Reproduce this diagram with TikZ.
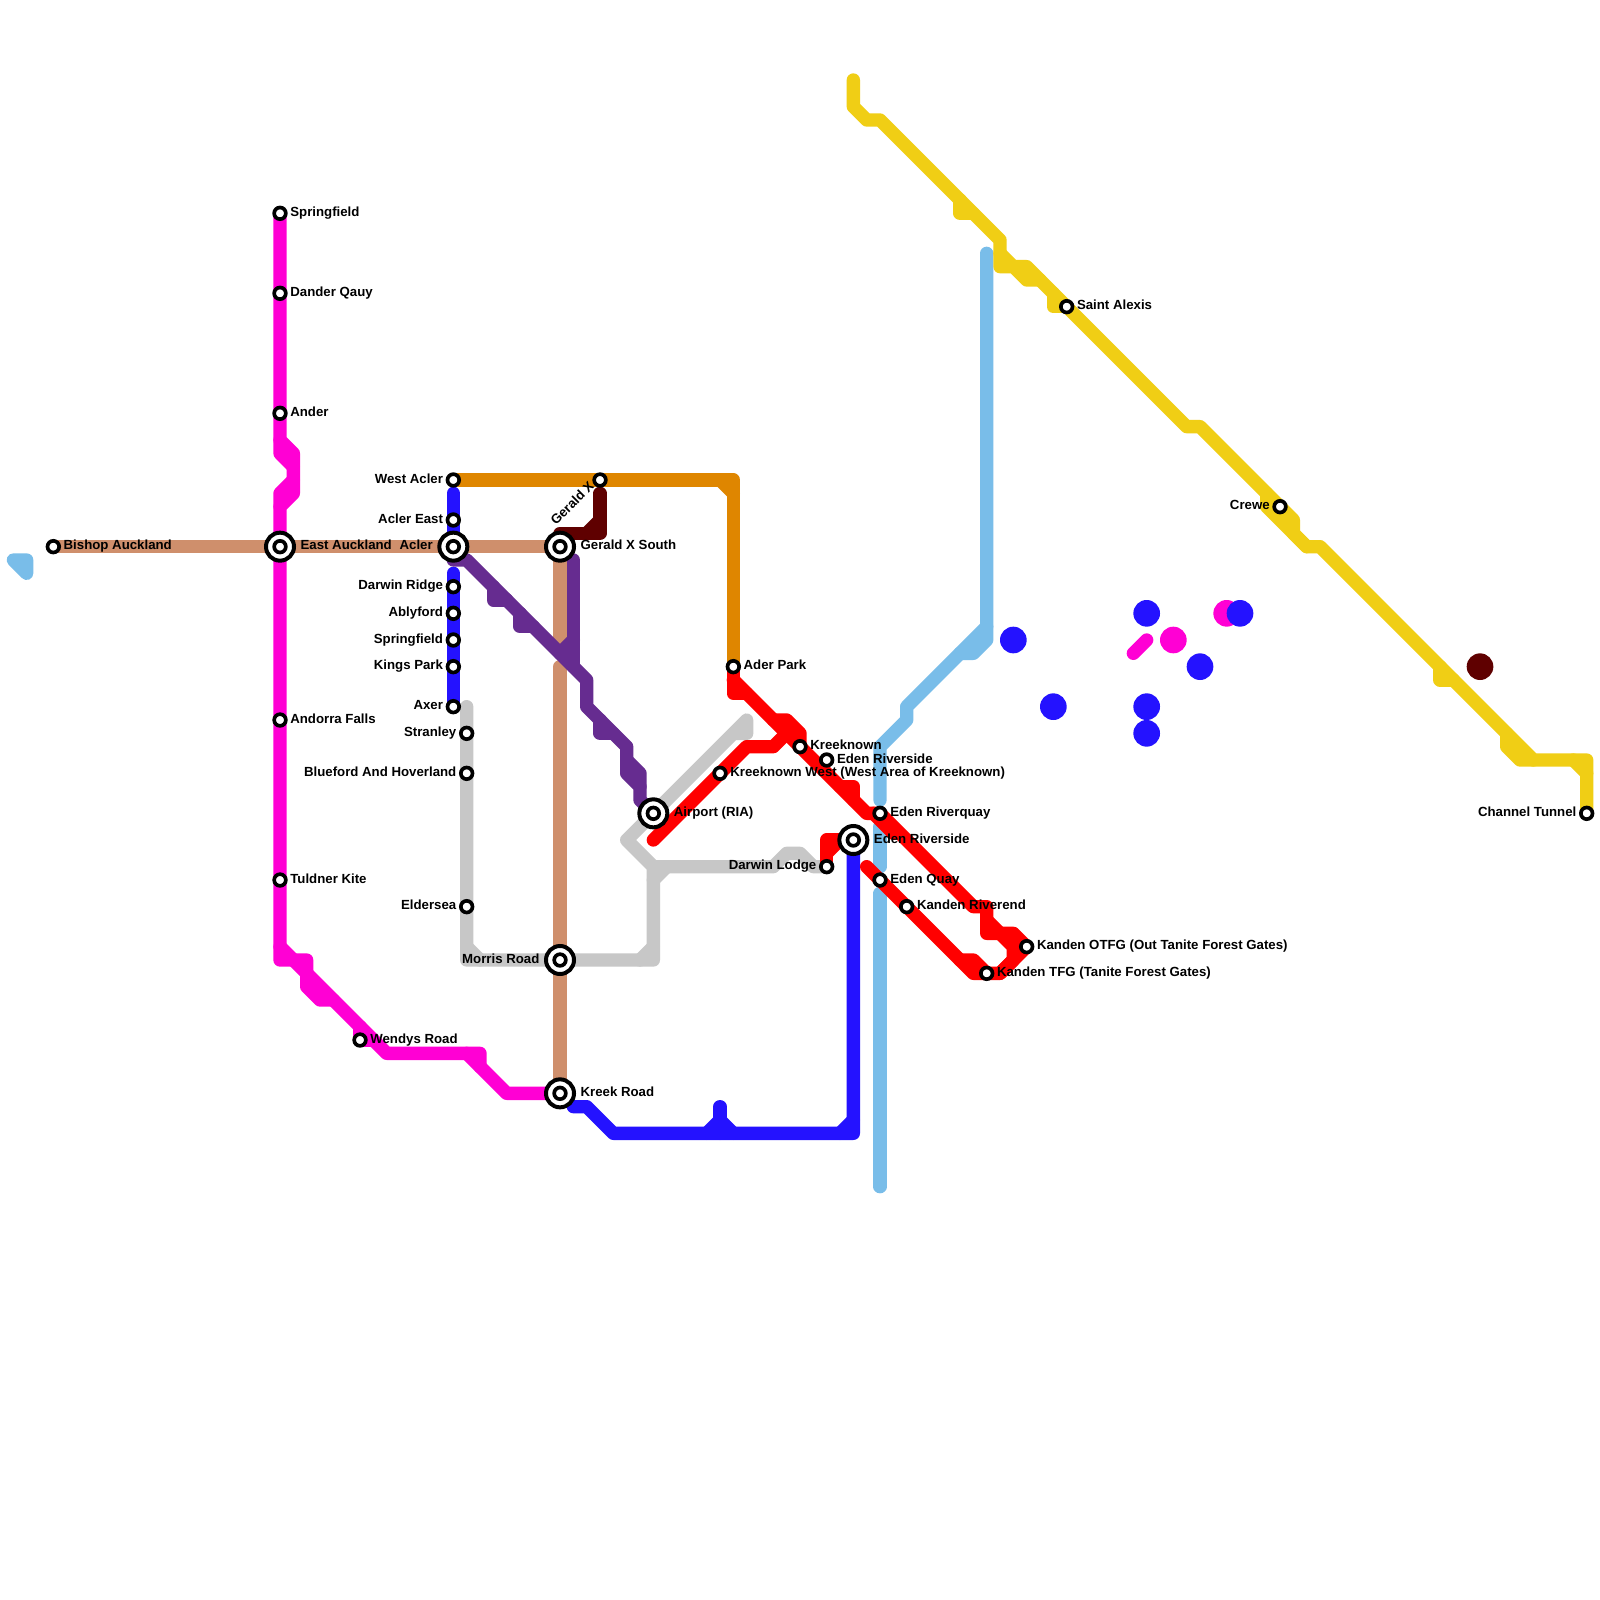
\documentclass[tikz,border=0pt]{standalone}
\usepackage{fontspec}
\setmainfont{Liberation Sans}
\usetikzlibrary{calc,positioning}
\definecolor{cmagenta}{HTML}{FF00D4}
\definecolor{cblue}{HTML}{2412FF}
\definecolor{cyellow}{HTML}{F0CE15}
\definecolor{csky}{HTML}{79BDE9}
\definecolor{ctan}{HTML}{CF8F6C}
\definecolor{cpurple}{HTML}{662C90}
\definecolor{corange}{HTML}{DF8600}
\definecolor{cgrey}{HTML}{C7C7C7}
\definecolor{cmaroon}{HTML}{5F0000}
\tikzset{
  mline/.style={line width=0.2cm,line join=round,line cap=round},
  stn/.style={circle,draw=black,fill=white,line width=0.055cm,inner sep=0pt,minimum size=0.175cm},
  hub/.style={circle,draw=black,fill=white,line width=0.06cm,inner sep=0pt,minimum size=0.42cm},
  lbl/.style={inner sep=0pt,text=black,text height=4.2pt,text depth=1.38pt,font=\fontsize{5.65}{6}\selectfont\bfseries},
  dotm/.style={fill,circle,inner sep=0pt,minimum size=0.4cm}
}
\begin{document}
\begin{tikzpicture}[x=0.2cm,y=-0.2cm]
  \useasboundingbox (0,0) rectangle (120,120);
  \fill[white] (0,0) rectangle (120,120);
  % grey
  \draw[mline,cgrey] (35,53) -- (35,72) -- (49,72) -- (49,65) -- (47,63) -- (56,54) -- (56,55) -- (55,55);
  \draw[mline,cgrey] (35,71) -- (36,72);
  \draw[mline,cgrey] (48,72) -- (49,71);
  \draw[mline,cgrey] (49,66) -- (50,65);
  \draw[mline,cgrey] (49,65) -- (58,65) -- (59,64) -- (60,64) -- (61,65) -- (62,65);
  % tan
  \draw[mline,ctan] (4,41) -- (42,41) -- (42,48);
  \draw[mline,ctan] (42,50) -- (42,82);
  % sky
  \draw[mline,csky] (1,42) -- (2,42) -- (2,43) -- cycle;
  \draw[mline,csky] (74,19) -- (74,48) -- (73,49) -- (72,49);
  \draw[mline,csky] (74,47) -- (68,53) -- (68,54) -- (66,56) -- (66,60);
  \draw[mline,csky] (66,62) -- (66,65);
  \draw[mline,csky] (66,67) -- (66,89);
  % blue
  \draw[mline,cblue] (34,37) -- (34,41);
  \draw[mline,cblue] (34,43) -- (34,53);
  \draw[mline,cblue] (43,83) -- (44,83) -- (46,85) -- (64,85) -- (64,63);
  \draw[mline,cblue] (63,85) -- (64,84);
  \draw[mline,cblue] (53,85) -- (54,84) -- (55,85);
  \draw[mline,cblue] (54,83) -- (54,85);
  % orange and maroon
  \draw[mline,corange] (34,36) -- (55,36) -- (55,50);
  \draw[mline,corange] (54,36) -- (55,37);
  \draw[mline,cmaroon] (42,40) -- (45,40) -- (45,37);
  \draw[mline,cmaroon] (44,40) -- (45,39);
  % magenta
  \draw[mline,cmagenta] (21,16) -- (21,33) -- (22,34) -- (22,37) -- (21,38) -- (21,72) -- (23,72) -- (23,74) -- (24,75) -- (25,75);
  \draw[mline,cmagenta] (21,33) -- (21,34) -- (22,35);
  \draw[mline,cmagenta] (22,36) -- (21,37) -- (21,38);
  \draw[mline,cmagenta] (21,71) -- (29,79) -- (36,79) -- (36,80);
  \draw[mline,cmagenta] (35,79) -- (38,82) -- (42,82);
  \draw[mline,cmagenta] (27,77) -- (27,78) -- (28,78);
  \draw[mline,cmagenta] (85,49) -- (86,48);
  % purple
  \draw[mline,cpurple] (34,42) -- (35,42) -- (44,51) -- (44,53) -- (47,56) -- (47,58) -- (48,59) -- (48,60) -- (49,61);
  \draw[mline,cpurple] (47,57) -- (48,58) -- (48,59);
  \draw[mline,cpurple] (37,44) -- (37,45) -- (38,45);
  \draw[mline,cpurple] (39,46) -- (39,47) -- (40,47);
  \draw[mline,cpurple] (45,54) -- (45,55) -- (46,55);
  \draw[mline,cpurple] (43,42) -- (43,50);
  \draw[mline,cpurple] (42,49) -- (43,48);
  % yellow
  \draw[mline,cyellow] (64,6) -- (64,8) -- (65,9) -- (66,9) -- (75,18) -- (75,20) -- (76,20) -- (77,21) -- (78,21);
  \draw[mline,cyellow] (72,15) -- (72,16) -- (73,16);
  \draw[mline,cyellow] (75,19) -- (76,20) -- (77,20) -- (89,32) -- (90,32) -- (97,39) -- (97,40) -- (98,41);
  \draw[mline,cyellow] (79,22) -- (79,23) -- (80,23);
  \draw[mline,cyellow] (95,37) -- (95,38) -- (98,41) -- (99,41) -- (115,57) -- (119,57) -- (119,61);
  \draw[mline,cyellow] (108,50) -- (108,51) -- (109,51);
  \draw[mline,cyellow] (113,55) -- (113,56) -- (114,57) -- (115,57);
  \draw[mline,cyellow] (118,57) -- (119,58);
  % red
  \draw[mline,red] (55,50) -- (55,52) -- (56,52);
  \draw[mline,red] (55,51) -- (65,61) -- (66,61) -- (73,68) -- (74,68) -- (74,70) -- (76,70) -- (77,71) -- (75,73) -- (73,73) -- (65,65);
  \draw[mline,red] (65.5,61) -- (67,62.5);
  \draw[mline,red] (58,54) -- (59,54) -- (60,55) -- (60,56);
  \draw[mline,red] (49,63) -- (56,56) -- (58,56) -- (59,55);
  \draw[mline,red] (63,59) -- (64,59) -- (64,60);
  \draw[mline,red] (74,69) -- (75,70) -- (76,71) -- (76,72) -- (75,73);
  \draw[mline,red] (72,72) -- (73,72) -- (74,73);
  \draw[mline,red] (62,65) -- (62,63) -- (64,63);
  \draw[mline,red] (62,64) -- (63,63);
  % single dots
  \foreach \n/\x/\y/\c in {da/86/46/cblue,db/76/48/cblue,dc/90/50/cblue,dd/79/53/cblue,de/86/53/cblue,df/86/55/cblue,
      dg/88/48/cmagenta,dh/92/46/cmagenta,di/93/46/cblue,dj/111/50/cmaroon}
    \node[dotm,text=\c,\c] (\n) at (\x,\y) {};
  % stations, label on the right
  \foreach \n/\x/\y/\t in {sf/21/16/Springfield,dq/21/22/Dander Qauy,an/21/31/Ander,af/21/54/Andorra Falls,
      tk/21/66/Tuldner Kite,wr/27/78/Wendys Road,ba/4/41/Bishop Auckland,ap/55/50/Ader Park,
      kw/54/58/{Kreeknown West (West Area of Kreeknown)},kk/60/56/Kreeknown,er/62/57/Eden Riverside,
      eq/66/61/Eden Riverquay,eu/66/66/Eden Quay,kr/68/68/Kanden Riverend,
      ko/77/71/{Kanden OTFG (Out Tanite Forest Gates)},kt/74/73/{Kanden TFG (Tanite Forest Gates)},sa/80/23/Saint Alexis}
  {
    \node[stn] (\n) at (\x,\y) {};
    \node[lbl,right=0.94pt of \n] (\n t) {\t};
  }
  % stations, label on the left
  \foreach \n/\x/\y/\t in {wa/34/36/West Acler,ae/34/39/Acler East,dr/34/44/Darwin Ridge,ab/34/46/Ablyford,
      sg/34/48/Springfield,kp/34/50/Kings Park,ax/34/53/Axer,st/35/55/Stranley,bh/35/58/Blueford And Hoverland,
      el/35/68/Eldersea,dl/62/65/Darwin Lodge,cr/96/38/Crewe,ct/119/61/Channel Tunnel}
  {
    \node[stn] (\n) at (\x,\y) {};
    \node[lbl,left=0.94pt of \n] (\n t) {\t};
  }
  % interchanges
  \foreach \n/\x/\y/\t in {ea/21/41/East Auckland,gs/42/41/Gerald X South,kq/42/82/Kreek Road,ai/49/61/Airport (RIA),
      es/64/63/Eden Riverside}
  {
    \node[hub] (\n o) at (\x,\y) {};
    \node[stn] (\n) at (\x,\y) {};
    \node[lbl,right=1.76pt of \n o] (\n t) {\t};
  }
  \foreach \n/\x/\y/\t in {ac/34/41/Acler,mr/42/72/Morris Road}
  {
    \node[hub] (\n o) at (\x,\y) {};
    \node[stn] (\n) at (\x,\y) {};
    \node[lbl,left=1.76pt of \n o] (\n t) {\t};
  }
  \node[stn] (gx) at (45,36) {};
  \node[lbl,rotate=45,anchor=east] (gxt) at ($(gx)+(-0.55,0.35)$) {Gerald X};
\end{tikzpicture}
\end{document}
